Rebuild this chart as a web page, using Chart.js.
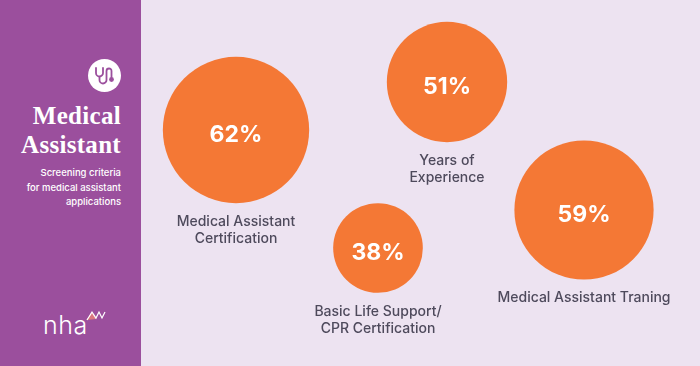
<!DOCTYPE html>
<html lang="en">
<head>
    <meta charset="UTF-8">
    <title>Medical Assistant</title>
    <script src="https://cdn.jsdelivr.net/npm/chart.js"></script>
    <style>
        html, body { margin: 0; padding: 0; }
        body { width: 700px; height: 366px; overflow: hidden; background: #ede3f1; position: relative; }
        #chart { position: absolute; left: 0; top: 0; }
        .panel { position: absolute; left: 0; top: 0; width: 141px; height: 366px; background: #9b4f9d; color: #fff; font-family: Inter, sans-serif; }
        .panel div, .panel svg { position: absolute; }
        .heading { right: 20px; top: 101px; text-align: right; font: bold 25px/29px "Liberation Serif", serif; letter-spacing: 0.3px; white-space: nowrap; }
        .sub { right: 20px; top: 166px; text-align: right; font-size: 9.5px; line-height: 14.5px; font-weight: 500; white-space: nowrap; }
        .logo { left: 43px; top: 311px; font-size: 25px; font-weight: 300; line-height: 28px; letter-spacing: 0.5px; }
    </style>
</head>
<body>
    <canvas id="chart" width="700" height="366"></canvas>

    <div class="panel">
        <svg style="left:88px;top:59px" width="33" height="33" viewBox="0 0 33 33">
            <circle cx="16.5" cy="16.5" r="16.5" fill="#fff"/>
            <g fill="none" stroke="#9b4f9d" stroke-width="1.8" stroke-linecap="round">
                <path d="M8 9 v5 a3.5 3.5 0 0 0 7 0 v-5"/>
                <path d="M11.5 18 v3 a3.5 3.5 0 0 0 7 0 v-9 a2.5 2.5 0 0 1 5 0 v6"/>
            </g>
            <circle cx="23.5" cy="20.5" r="2.4" fill="#9b4f9d"/>
        </svg>
        <div class="heading">Medical<br>Assistant</div>
        <div class="sub">Screening criteria<br>for medical assistant<br>applications</div>
        <div class="logo">nha</div>
        <svg style="left:86px;top:310px" width="20" height="12" viewBox="0 0 20 12">
            <path d="M1 10 L6 3 L10 9" fill="#d9777f" stroke="#f0a0a0" stroke-width="1"/>
            <path d="M1 10 L6 2 L10 8 L13 2 L16 8 L19 2" fill="none" stroke="#fff" stroke-width="1.2"/>
        </svg>
    </div>

    <script>
        const categories = [
            ['Medical Assistant', 'Certification'],
            ['Years of', 'Experience'],
            ['Basic Life Support/', 'CPR Certification'],
            ['Medical Assistant Traning']
        ];
        const percentages = [62, 51, 38, 59];
        const bubbleX = [236, 447, 378, 584];
        const bubbleY = [130, 82, 248, 210];

        // circle radius follows the percentage
        const radiusPerPercent = 1.18;

        // writes the percent inside each bubble and the category under it
        const bubbleLabels = {
            id: 'bubbleLabels',
            afterDatasetsDraw(chart) {
                const ctx = chart.ctx;
                ctx.save();
                ctx.textAlign = 'center';
                ctx.textBaseline = 'middle';
                chart.getDatasetMeta(0).data.forEach((bubble, i) => {
                    const r = percentages[i] * radiusPerPercent;
                    ctx.fillStyle = '#ffffff';
                    ctx.font = 'bold 23px Inter, sans-serif';
                    ctx.fillText(percentages[i] + '%', bubble.x, bubble.y + 5);
                    ctx.fillStyle = '#4e4a5c';
                    ctx.font = '500 14px Inter, sans-serif';
                    categories[i].forEach((line, n) => {
                        ctx.fillText(line, bubble.x, bubble.y + r + 18.5 + n * 17);
                    });
                });
                ctx.restore();
            }
        };

        new Chart(document.getElementById('chart'), {
            type: 'bubble',
            data: {
                datasets: [{
                    data: percentages.map((p, i) => ({ x: bubbleX[i], y: bubbleY[i], r: p * radiusPerPercent })),
                    backgroundColor: '#f47835',
                    borderWidth: 0,
                    hoverRadius: 0,
                    clip: false
                }]
            },
            options: {
                responsive: false,
                animation: false,
                events: [],
                layout: { padding: 0, autoPadding: false },
                plugins: { legend: { display: false }, tooltip: { enabled: false } },
                scales: {
                    x: { type: 'linear', min: 0, max: 700, display: false },
                    y: { type: 'linear', min: 0, max: 366, reverse: true, display: false }
                }
            },
            plugins: [bubbleLabels]
        });
    </script>
</body>
</html>
